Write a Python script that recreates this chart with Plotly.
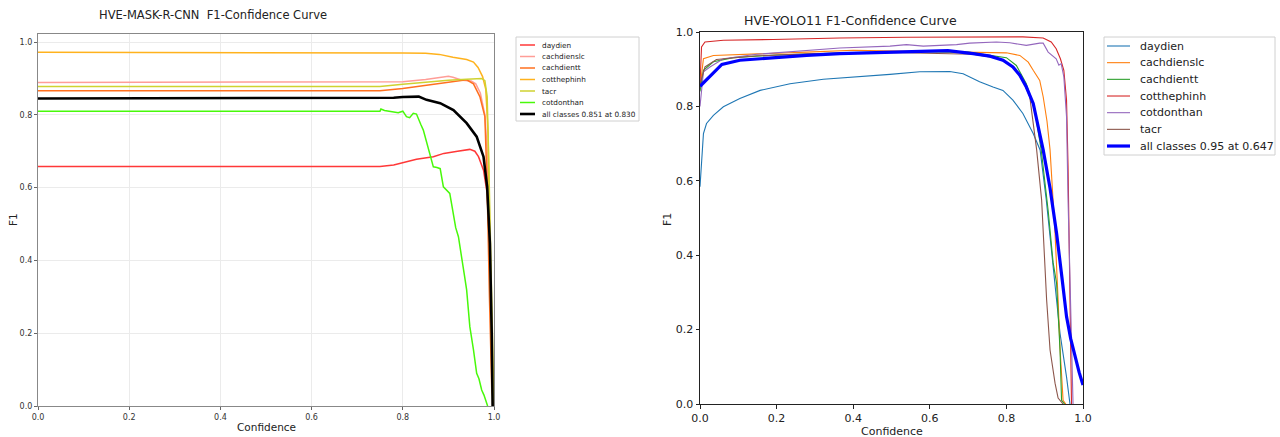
import plotly.graph_objects as go

W, H = 1280, 437

# ---------------- LEFT chart data (HVE-MASK-R-CNN) ----------------
left_names = ["daydien", "cachdienslc", "cachdientt", "cotthephinh", "tacr", "cotdonthan",
              "all classes 0.851 at 0.830"]
left_colors = ["#FF3838", "#FF9D97", "#FF701F", "#FFB21D", "#CFD231", "#48F90A", "#000000"]

l_daydien_x = [0, 0.75, 0.78, 0.80, 0.83, 0.867, 0.89, 0.92, 0.947, 0.958, 0.966, 0.977, 0.985, 0.991, 0.995, 1.0]
l_daydien_y = [0.658, 0.658, 0.662, 0.668, 0.678, 0.685, 0.694, 0.700, 0.705, 0.700, 0.685, 0.648, 0.585, 0.42, 0.15, 0.0]

l_cachdienslc_x = [0, 0.75, 0.80, 0.85, 0.88, 0.90, 0.91, 0.93, 0.95, 0.96, 0.97, 0.98, 0.985, 0.99, 0.995, 1.0]
l_cachdienslc_y = [0.889, 0.889, 0.891, 0.897, 0.903, 0.906, 0.903, 0.895, 0.893, 0.885, 0.86, 0.80, 0.70, 0.40, 0.10, 0.0]

l_cachdientt_x = [0, 0.75, 0.80, 0.85, 0.90, 0.94, 0.955, 0.969, 0.98, 0.985, 0.99, 0.995, 1.0]
l_cachdientt_y = [0.866, 0.866, 0.872, 0.880, 0.888, 0.896, 0.885, 0.850, 0.795, 0.60, 0.30, 0.05, 0.0]

l_cotthephinh_x = [0, 0.75, 0.80, 0.85, 0.88, 0.91, 0.94, 0.955, 0.965, 0.975, 0.982, 0.987, 0.99, 0.993, 0.997]
l_cotthephinh_y = [0.972, 0.972, 0.970, 0.969, 0.966, 0.958, 0.952, 0.945, 0.93, 0.905, 0.87, 0.75, 0.5, 0.2, 0.0]

l_tacr_x = [0, 0.75, 0.80, 0.85, 0.90, 0.94, 0.973, 0.98, 0.985, 0.988, 0.992, 0.996, 1.0]
l_tacr_y = [0.878, 0.878, 0.884, 0.890, 0.895, 0.898, 0.900, 0.894, 0.85, 0.70, 0.45, 0.15, 0.0]

l_cotdonthan_x = [0, 0.75, 0.752, 0.76, 0.77, 0.78, 0.79, 0.80, 0.808, 0.815, 0.823, 0.83, 0.835,
                  0.84, 0.845, 0.85, 0.855, 0.86, 0.867, 0.875, 0.882, 0.889, 0.895, 0.903,
                  0.907, 0.911, 0.916, 0.922, 0.929, 0.935, 0.94, 0.947, 0.955, 0.962, 0.967,
                  0.973, 0.978, 0.983, 0.986]
l_cotdonthan_y = [0.810, 0.810, 0.816, 0.812, 0.810, 0.808, 0.806, 0.810, 0.795, 0.792, 0.804, 0.802, 0.785,
                  0.772, 0.758, 0.735, 0.712, 0.690, 0.657, 0.655, 0.652, 0.602, 0.595, 0.584,
                  0.555, 0.520, 0.490, 0.465, 0.401, 0.360, 0.319, 0.218, 0.154, 0.090, 0.075,
                  0.044, 0.030, 0.007, 0.0]

l_all_x = [0, 0.75, 0.78, 0.80, 0.823, 0.835, 0.852, 0.882, 0.911, 0.94, 0.962, 0.977, 0.985, 0.991, 0.995, 0.997]
l_all_y = [0.845, 0.845, 0.847, 0.849, 0.851, 0.850, 0.841, 0.832, 0.813, 0.777, 0.740, 0.685, 0.602, 0.447, 0.20, 0.0]

left_x = [l_daydien_x, l_cachdienslc_x, l_cachdientt_x, l_cotthephinh_x, l_tacr_x, l_cotdonthan_x, l_all_x]
left_y = [l_daydien_y, l_cachdienslc_y, l_cachdientt_y, l_cotthephinh_y, l_tacr_y, l_cotdonthan_y, l_all_y]

# ---------------- RIGHT chart data (HVE-YOLO11) ----------------
right_names = ["daydien", "cachdienslc", "cachdientt", "cotthephinh", "cotdonthan", "tacr",
               "all classes 0.95 at 0.647"]
right_colors = ["#1f77b4", "#ff7f0e", "#2ca02c", "#d62728", "#9467bd", "#8c564b", "#0000ff"]

r_daydien_x = [0, 0.009, 0.017, 0.035, 0.061, 0.104, 0.157, 0.235, 0.322, 0.409, 0.496, 0.574, 0.652,
               0.687, 0.73, 0.765, 0.791, 0.817, 0.843, 0.87, 0.888, 0.904, 0.918, 0.93, 0.94, 0.957, 0.966]
r_daydien_y = [0.584, 0.727, 0.754, 0.776, 0.799, 0.821, 0.843, 0.861, 0.873, 0.879, 0.886, 0.893, 0.894,
               0.888, 0.866, 0.852, 0.843, 0.817, 0.781, 0.727, 0.683, 0.55, 0.414, 0.29, 0.19, 0.073, 0.0]

r_cachdienslc_x = [0, 0.009, 0.035, 0.104, 0.191, 0.278, 0.4, 0.539, 0.713, 0.8, 0.835, 0.857, 0.87,
                   0.887, 0.896, 0.906, 0.914, 0.927, 0.935, 0.94, 0.948, 0.955]
r_cachdienslc_y = [0.85, 0.928, 0.937, 0.939, 0.942, 0.946, 0.951, 0.949, 0.946, 0.944, 0.937, 0.919,
                   0.897, 0.870, 0.826, 0.76, 0.683, 0.459, 0.28, 0.15, 0.01, 0.0]

r_cachdientt_x = [0, 0.009, 0.035, 0.087, 0.2, 0.4, 0.55, 0.7, 0.8, 0.826, 0.852, 0.874, 0.891, 0.909,
                  0.922, 0.931, 0.94, 0.944, 0.952]
r_cachdientt_y = [0.84, 0.897, 0.92, 0.931, 0.938, 0.945, 0.947, 0.946, 0.931, 0.91, 0.861, 0.79, 0.682,
                  0.52, 0.38, 0.325, 0.145, 0.01, 0.0]

r_cotthephinh_x = [0, 0.004, 0.013, 0.061, 0.191, 0.365, 0.539, 0.713, 0.843, 0.896, 0.917, 0.93, 0.941,
                   0.95, 0.957, 0.961, 0.964, 0.967, 0.97]
r_cotthephinh_y = [0.86, 0.96, 0.973, 0.978, 0.98, 0.984, 0.986, 0.987, 0.987, 0.984, 0.973, 0.955, 0.928,
                   0.897, 0.817, 0.638, 0.369, 0.101, 0.0]

r_cotdonthan_x = [0, 0.009, 0.026, 0.061, 0.148, 0.278, 0.365, 0.496, 0.539, 0.583, 0.67, 0.704, 0.757,
                  0.774, 0.809, 0.852, 0.887, 0.896, 0.909, 0.93, 0.937, 0.943, 0.95, 0.957, 0.961, 0.967, 0.974]
r_cotdonthan_y = [0.80, 0.893, 0.906, 0.928, 0.94, 0.949, 0.957, 0.962, 0.966, 0.962, 0.966, 0.97, 0.971,
                  0.973, 0.971, 0.964, 0.97, 0.97, 0.946, 0.928, 0.911, 0.915, 0.879, 0.772, 0.548, 0.28, 0.0]

r_tacr_x = [0, 0.013, 0.043, 0.148, 0.3, 0.5, 0.713, 0.783, 0.817, 0.843, 0.861, 0.879, 0.892, 0.905,
            0.914, 0.927, 0.935, 0.948]
r_tacr_y = [0.86, 0.906, 0.926, 0.936, 0.942, 0.945, 0.94, 0.928, 0.906, 0.87, 0.826, 0.683, 0.548, 0.28,
            0.145, 0.056, 0.016, 0.0]

r_all_x = [0, 0.03, 0.057, 0.104, 0.19, 0.278, 0.365, 0.452, 0.539, 0.647, 0.713, 0.757, 0.791, 0.817,
           0.835, 0.852, 0.87, 0.896, 0.914, 0.931, 0.945, 0.957, 0.968, 0.979, 0.99, 1.0]
r_all_y = [0.854, 0.884, 0.913, 0.924, 0.931, 0.937, 0.942, 0.945, 0.946, 0.95, 0.942, 0.935, 0.924, 0.906,
           0.884, 0.852, 0.808, 0.683, 0.58, 0.459, 0.34, 0.235, 0.175, 0.127, 0.085, 0.051]

right_x = [r_daydien_x, r_cachdienslc_x, r_cachdientt_x, r_cotthephinh_x, r_cotdonthan_x, r_tacr_x, r_all_x]
right_y = [r_daydien_y, r_cachdienslc_y, r_cachdientt_y, r_cotthephinh_y, r_cotdonthan_y, r_tacr_y, r_all_y]

tick_vals = [0.0, 0.2, 0.4, 0.6, 0.8, 1.0]
tick_text = ["0.0", "0.2", "0.4", "0.6", "0.8", "1.0"]

FONT = "DejaVu Sans"


def px(x):
    return x / W


def py(y):
    return 1 - y / H


fig = go.Figure()

for i, name in enumerate(left_names):
    is_all = i == len(left_names) - 1
    fig.add_trace(go.Scatter(x=left_x[i], y=left_y[i], mode="lines", name=name,
                             line=dict(color=left_colors[i], width=2.6 if is_all else 1.5),
                             xaxis="x", yaxis="y", showlegend=False))

for i, name in enumerate(right_names):
    is_all = i == len(right_names) - 1
    fig.add_trace(go.Scatter(x=right_x[i], y=right_y[i], mode="lines", name=name,
                             line=dict(color=right_colors[i], width=3.2 if is_all else 1.1),
                             xaxis="x2", yaxis="y2", showlegend=False))

shapes = []
annotations = []

# Left legend (manual)
shapes.append(dict(type="rect", xref="paper", yref="paper", x0=px(516), x1=px(639), y0=py(121), y1=py(37),
                   line=dict(color="#d0d0d0", width=1), fillcolor="rgba(255,255,255,0.8)", layer="above"))
for i, name in enumerate(left_names):
    yy = 45 + i * 11.5
    shapes.append(dict(type="line", xref="paper", yref="paper", x0=px(520), x1=px(535), y0=py(yy), y1=py(yy),
                       line=dict(color=left_colors[i], width=2.6 if i == len(left_names) - 1 else 1.5),
                       layer="above"))
    annotations.append(dict(xref="paper", yref="paper", x=px(540), y=py(yy), text=name, showarrow=False,
                            xanchor="left", yanchor="middle", font=dict(family=FONT, size=7.3, color="#222")))

# Right legend (manual)
shapes.append(dict(type="rect", xref="paper", yref="paper", x0=px(1104), x1=px(1275), y0=py(155), y1=py(37),
                   line=dict(color="#d0d0d0", width=1), fillcolor="rgba(255,255,255,0.8)", layer="above"))
for i, name in enumerate(right_names):
    yy = 46 + i * 16.67
    shapes.append(dict(type="line", xref="paper", yref="paper", x0=px(1107), x1=px(1130), y0=py(yy), y1=py(yy),
                       line=dict(color=right_colors[i], width=3.2 if i == len(right_names) - 1 else 1.1),
                       layer="above"))
    annotations.append(dict(xref="paper", yref="paper", x=px(1138), y=py(yy), text=name, showarrow=False,
                            xanchor="left", yanchor="middle", font=dict(family=FONT, size=11, color="#222")))

# Titles
annotations.append(dict(xref="paper", yref="paper", x=px(213), y=py(15), text="HVE-MASK-R-CNN  F1-Confidence Curve",
                        showarrow=False, xanchor="center", yanchor="middle",
                        font=dict(family=FONT, size=11.5, color="#222")))
annotations.append(dict(xref="paper", yref="paper", x=px(850), y=py(21), text="HVE-YOLO11 F1-Confidence Curve",
                        showarrow=False, xanchor="center", yanchor="middle",
                        font=dict(family=FONT, size=12.5, color="#222")))
# Axis titles
annotations.append(dict(xref="paper", yref="paper", x=px(266), y=py(427), text="Confidence", showarrow=False,
                        xanchor="center", yanchor="middle", font=dict(family=FONT, size=10.5, color="#222")))
annotations.append(dict(xref="paper", yref="paper", x=px(13), y=py(220), text="F1", showarrow=False, textangle=-90,
                        xanchor="center", yanchor="middle", font=dict(family=FONT, size=10.5, color="#222")))
annotations.append(dict(xref="paper", yref="paper", x=px(892), y=py(431), text="Confidence", showarrow=False,
                        xanchor="center", yanchor="middle", font=dict(family=FONT, size=11, color="#222")))
annotations.append(dict(xref="paper", yref="paper", x=px(667), y=py(220), text="F1", showarrow=False, textangle=-90,
                        xanchor="center", yanchor="middle", font=dict(family=FONT, size=11, color="#222")))

common_left = dict(range=[0, 1], tickvals=tick_vals, ticktext=tick_text, ticks="outside", ticklen=3,
                   tickcolor="#666", tickfont=dict(family=FONT, size=8, color="#333"), showgrid=True,
                   gridcolor="#ebebeb", gridwidth=1, showline=True, linecolor="#888", linewidth=1.2,
                   mirror=True, zeroline=False, automargin=False)
common_right = dict(tickvals=tick_vals, ticktext=tick_text, ticks="outside", ticklen=3.5, tickcolor="#222",
                    tickfont=dict(family=FONT, size=11, color="#222"), showgrid=False, showline=True,
                    linecolor="#222", linewidth=1, mirror=True, zeroline=False, automargin=False)

fig.update_layout(
    width=W, height=H, margin=dict(l=0, r=0, t=0, b=0, pad=0, autoexpand=False),
    paper_bgcolor="white", plot_bgcolor="white",
    showlegend=False,
    xaxis=dict(domain=[px(38), px(494)], anchor="y", **common_left),
    yaxis=dict(domain=[py(406), py(34)], anchor="x", **{**common_left, "range": [0, 1.022]}),
    xaxis2=dict(domain=[px(700), px(1083)], anchor="y2", range=[0, 1], **common_right),
    yaxis2=dict(domain=[py(404), py(32)], anchor="x2", range=[0, 1], **common_right),
    shapes=shapes, annotations=annotations,
)

fig.write_html("out.html")
